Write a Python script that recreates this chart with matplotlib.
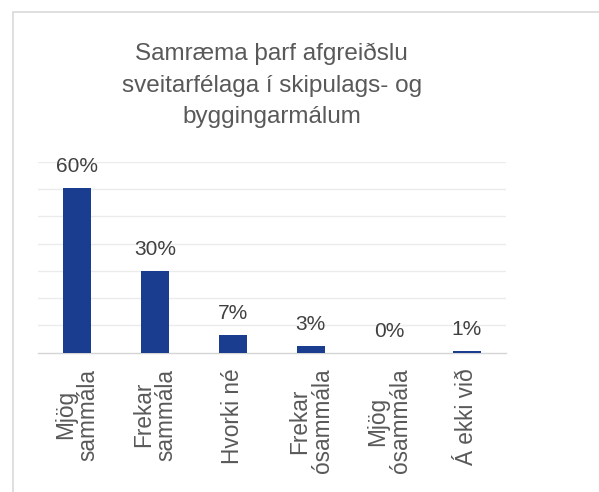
import matplotlib
matplotlib.use("Agg")
import matplotlib.pyplot as plt
from matplotlib.patches import Rectangle

categories = ["Mjög\nsammála", "Frekar\nsammála", "Hvorki né", "Frekar\nósammála", "Mjög\nósammála", "Á ekki við"]
values = [60.3, 29.8, 6.6, 2.6, 0.0, 0.6]
title = "Samræma þarf afgreiðslu\nsveitarfélaga í skipulags- og\nbyggingarmálum"

plt.rcParams['font.family'] = ['Liberation Sans', 'DejaVu Sans']

W, H = 599, 492
fig = plt.figure(figsize=(W / 100, H / 100), dpi=100)
fig.patch.set_facecolor('white')

# outer border (chart area frame)
fig.patches.append(Rectangle((13 / W, -0.1), 1.2, 1.1 - 12 / H, transform=fig.transFigure,
                             fill=False, edgecolor='#d9d9d9', linewidth=1.2, zorder=0))

left, right = 37.7 / W, 506 / W
bottom, top = 1 - 352.7 / H, 1 - 161.7 / H
ax = fig.add_axes([left, bottom, right - left, top - bottom])

x = list(range(len(categories)))
ax.bar(x, values, width=0.36, color='#1b3d8f', zorder=3)
ax.set_xlim(-0.5, len(categories) - 0.5)
ax.set_ylim(0, 70)
ax.set_yticks([10, 20, 30, 40, 50, 60, 70])
ax.yaxis.grid(True, color='#ebebeb', linewidth=1.0, zorder=0)
ax.set_axisbelow(True)
ax.tick_params(axis='y', left=False, labelleft=False)
ax.tick_params(axis='x', bottom=False, pad=8)
for s in ['top', 'right', 'left']:
    ax.spines[s].set_visible(False)
ax.spines['bottom'].set_color('#d4d4d4')
ax.spines['bottom'].set_linewidth(1.0)

ax.set_xticks(x)
ax.set_xticklabels(categories, rotation=90, fontsize=16.3, color='#595959',
                   ha='center', va='top', multialignment='center', linespacing=1.0)

for xi, v in zip(x, values):
    ax.annotate(f"{v:.0f}%", xy=(xi, v), xytext=(0, 11.5), textcoords='offset points',
                ha='center', va='baseline', fontsize=15, color='#404040')

fig.text((37.7 + 506) / 2 / W, 1 - 43 / H, title, ha='center', va='top', fontsize=17.5,
         color='#595959', linespacing=1.55)

fig.savefig('out.png', dpi=100, facecolor='white')
